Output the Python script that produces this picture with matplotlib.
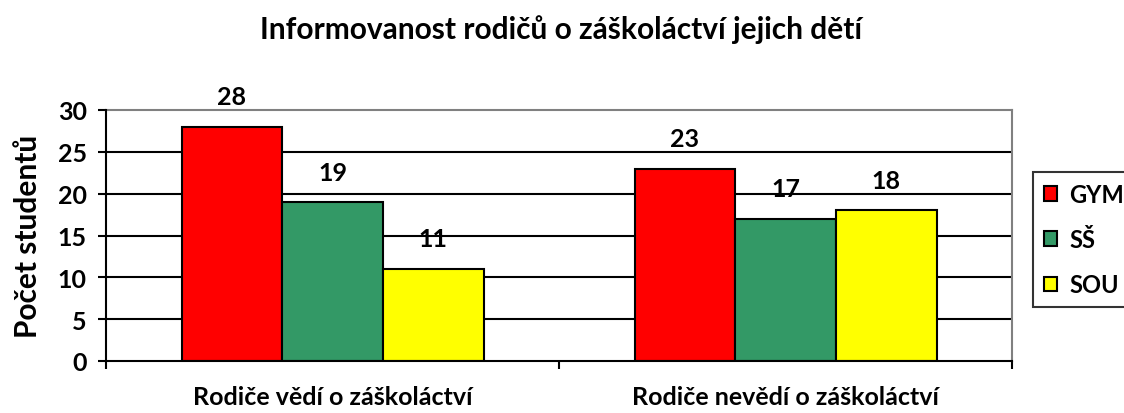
import numpy as np
import matplotlib
matplotlib.use("Agg")
import matplotlib.pyplot as plt

plt.rcParams['font.family'] = ['Lato', 'DejaVu Sans']
plt.rcParams['font.weight'] = 'bold'

title = "Informovanost rodičů o záškoláctví jejich dětí"
categories = ["Rodiče vědí o záškoláctví", "Rodiče nevědí o záškoláctví"]
series = ["GYM", "SŠ", "SOU"]
gym = [28, 23]
ss = [19, 17]
sou = [11, 18]
colors = ["#FF0000", "#339966", "#FFFF00"]

W, H = 1124, 414
fig = plt.figure(figsize=(W / 100, H / 100), dpi=100)
ax = fig.add_axes([106 / W, 1 - 362 / H, (1012 - 106) / W, (362 - 111) / H])

x = np.arange(len(categories))
bw = 1 / 4.5
values = [gym, ss, sou]
for i, (name, vals, c) in enumerate(zip(series, values, colors)):
    pos = x + (i - 1) * bw
    ax.bar(pos, vals, width=bw, color=c, edgecolor="black", linewidth=1.5,
           label=name, zorder=3)
    for p, v in zip(pos, vals):
        ax.annotate(str(v), (p, v), xytext=(0, 30), textcoords="offset pixels",
                    ha="center", va="center", fontsize=18, fontweight="bold")

ax.set_xlim(-0.5, 1.5)
ax.set_ylim(0, 30)
ax.set_yticks(range(0, 31, 5))
for y in range(5, 30, 5):
    ax.axhline(y, color="black", linewidth=1.5, zorder=1)

ax.set_xticks([-0.5, 0.5, 1.5])
ax.set_xticklabels([])
ax.tick_params(axis="x", length=5.8, width=1.5, direction="out")
ax.tick_params(axis="y", length=5.8, width=1.5, direction="out", labelsize=18, pad=8)
for lab in ax.get_yticklabels():
    lab.set_fontweight("bold")

for s in ["left", "bottom"]:
    ax.spines[s].set_color("black")
    ax.spines[s].set_linewidth(1.5)
    ax.spines[s].set_zorder(4)
for s in ["top", "right"]:
    ax.spines[s].set_color("#808080")
    ax.spines[s].set_linewidth(1.5)

ylab = -(398 - 362) / (362 - 111)
for xi, cat in zip(x, categories):
    ax.text(xi, ylab, cat, transform=ax.get_xaxis_transform(), ha="center",
            va="center", fontsize=18, fontweight="bold")

ax.set_ylabel("Počet studentů", fontsize=21.5, fontweight="bold", va="center")
ax.yaxis.set_label_coords((28 - 106) / (1012 - 106), 0.5)

fig.text(561 / W, 1 - 30 / H, title, ha="center", va="center",
         fontsize=21.5, fontweight="bold")

leg = ax.legend(loc="upper left", bbox_to_anchor=(1033 / W, 1 - 173 / H),
                bbox_transform=fig.transFigure, frameon=True, fancybox=False,
                fontsize=17, handlelength=0.58, handleheight=0.58,
                labelspacing=0.95, borderpad=0.45, handletextpad=0.5,
                borderaxespad=0)
leg.get_frame().set_edgecolor("black")
leg.get_frame().set_linewidth(1.5)
for t in leg.get_texts():
    t.set_fontweight("bold")

fig.savefig("out.png", dpi=100)
